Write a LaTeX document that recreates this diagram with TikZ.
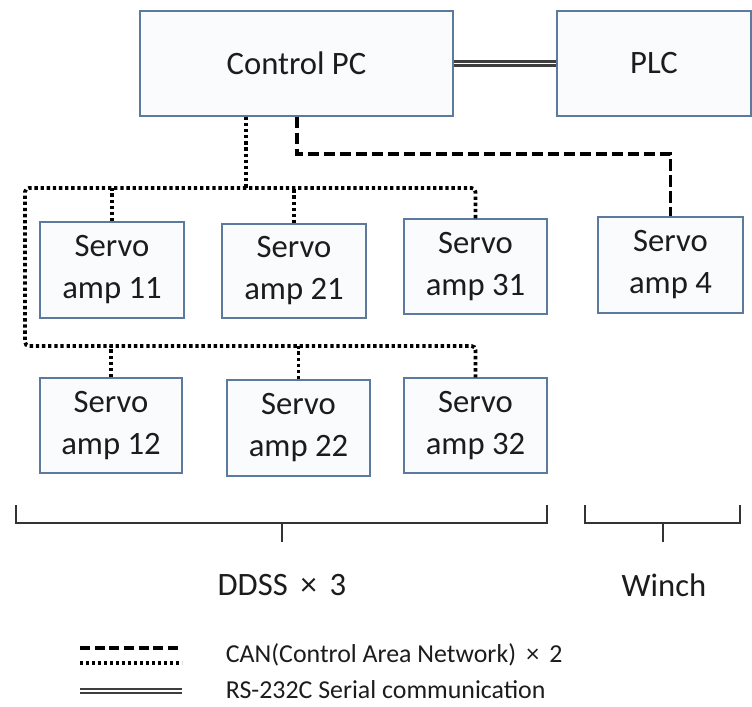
\documentclass[tikz,border=0pt]{standalone}
\usepackage{fontspec}
\setmainfont{Carlito}
\definecolor{boxline}{RGB}{92,122,158}
\definecolor{boxfill}{RGB}{249,251,253}
\definecolor{ink}{RGB}{28,28,28}
\tikzset{
  unit/.style={draw=boxline, fill=boxfill, line width=1.1pt, inner sep=0pt,
    align=center, text=ink, font=\fontsize{24.5pt}{31.5pt}\selectfont},
  dotbus/.style={line width=2.8pt, dash pattern=on 2.5pt off 2.1pt, line cap=butt, draw=black},
  dashbus/.style={line width=2.8pt, dash pattern=on 8.5pt off 3.5pt, line cap=butt, draw=black},
  serial/.style={draw=ink!85, line width=1.7pt, double=white, double distance=1.4pt},
  bracket/.style={draw=ink!90, line width=1.8pt},
  caption/.style={text=ink, font=\fontsize{24.5pt}{30pt}\selectfont},
  legendtext/.style={text=ink, anchor=west, inner sep=0.5pt, font=\fontsize{19.4pt}{23pt}\selectfont}
}
\begin{document}
\begin{tikzpicture}[x=0.75pt,y=-0.75pt]
\useasboundingbox (0,0) rectangle (752,706);

% controller and PLC
\node[unit, minimum width=234.75pt, minimum height=78.75pt] (cpc) at (296.5,63.5) {Control PC};
\node[unit, minimum width=145.5pt, minimum height=78.75pt] (plc) at (654,63.5) {PLC};

% servo amplifiers
\node[unit, minimum width=108pt, minimum height=72pt]       (s11) at (112,270)     {Servo\\amp 11};
\node[unit, minimum width=108pt, minimum height=70.5pt]     (s21) at (294,271)     {Servo\\amp 21};
\node[unit, minimum width=107.25pt, minimum height=71.25pt] (s31) at (475.5,266.5) {Servo\\amp 31};
\node[unit, minimum width=108.75pt, minimum height=72pt]    (s4)  at (670.5,265)   {Servo\\amp 4};
\node[unit, minimum width=106.5pt, minimum height=71.25pt]  (s12) at (111,425.5)   {Servo\\amp 12};
\node[unit, minimum width=107.25pt, minimum height=72pt]    (s22) at (298.5,428)   {Servo\\amp 22};
\node[unit, minimum width=107.25pt, minimum height=71.25pt] (s32) at (475.5,425.5) {Servo\\amp 32};

% RS-232C link
\draw[serial] (cpc.east) -- (plc.west);

% CAN bus for the DDSS amplifiers (dotted)
\coordinate (busTL) at (25,188);
\coordinate (busBL) at (25,346);
\coordinate (pcdot) at (246,188);
\draw[dotbus] (cpc.south -| pcdot) -- (pcdot);
\draw[dotbus, rounded corners=3pt] (s31.north) |- (busTL) -- (busBL) -| (s32.north);
\draw[dotbus] (s11.north) -- (s11.north |- busTL);
\draw[dotbus] (s21.north) -- (s21.north |- busTL);
\draw[dotbus] (s12.north) -- (s12.north |- busBL);
\draw[dotbus] (s22.north) -- (s22.north |- busBL);

% CAN bus for the winch amplifier (dashed)
\coordinate (canA) at (297,154);
\draw[dashbus] (cpc.south -| canA) -- (canA) -| (s4.north);

% group brackets
\coordinate (bDl) at (16,505);
\coordinate (bDr) at (547,505);
\coordinate (bDt) at (282,523);
\coordinate (bDe) at (282,542);
\draw[bracket] (bDl) |- (bDt) -| (bDr);
\draw[bracket] (bDt) -- (bDe);
\coordinate (bWl) at (585,505);
\coordinate (bWr) at (740,505);
\coordinate (bWt) at (663,523);
\coordinate (bWe) at (663,542);
\draw[bracket] (bWl) |- (bWt) -| (bWr);
\draw[bracket] (bWt) -- (bWe);

\node[caption] (ddss) at (282,585) {DDSS \,×\, 3};
\node[caption] (winch) at (664,585) {Winch};

% legend
\coordinate (l1a) at (80,648);  \coordinate (l1b) at (182,648);
\coordinate (l2a) at (80,663);  \coordinate (l2b) at (182,663);
\coordinate (l3a) at (80,691);  \coordinate (l3b) at (182,691);
\draw[dashbus, line width=2.4pt, dash pattern=on 7.5pt off 3.5pt] (l1a) -- (l1b);
\draw[dotbus, line width=2.6pt, dash pattern=on 2.2pt off 2.3pt] (l2a) -- (l2b);
\draw[serial] (l3a) -- (l3b);
\node[legendtext] (lcan) at (225,655) {CAN(Control Area Network) \,×\, 2};
\node[legendtext] (lrs) at (225,690) {RS-232C Serial communication};
\end{tikzpicture}
\end{document}
